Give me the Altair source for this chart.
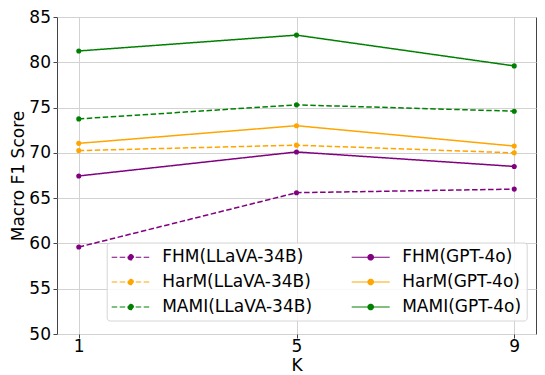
import altair as alt
import pandas as pd

k_values = [1, 5, 9]
series_order = ["FHM(LLaVA-34B)", "HarM(LLaVA-34B)", "MAMI(LLaVA-34B)",
                "FHM(GPT-4o)", "HarM(GPT-4o)", "MAMI(GPT-4o)"]
series_colors = ["purple", "orange", "green", "purple", "orange", "green"]
series_dash = [[5.5, 2.5], [5.5, 2.5], [5.5, 2.5], [1, 0], [1, 0], [1, 0]]

fhm_llava = [59.6, 65.6, 66.0]
harm_llava = [70.25, 70.85, 70.0]
mami_llava = [73.75, 75.3, 74.6]
fhm_gpt = [67.45, 70.1, 68.5]
harm_gpt = [71.05, 73.0, 70.75]
mami_gpt = [81.25, 83.0, 79.6]

values = {
    "FHM(LLaVA-34B)": fhm_llava,
    "HarM(LLaVA-34B)": harm_llava,
    "MAMI(LLaVA-34B)": mami_llava,
    "FHM(GPT-4o)": fhm_gpt,
    "HarM(GPT-4o)": harm_gpt,
    "MAMI(GPT-4o)": mami_gpt,
}

rows = []
for s in series_order:
    for k, v in zip(k_values, values[s]):
        rows.append({"K": k, "score": v, "series": s})
df = pd.DataFrame(rows)

FONT = "DejaVu Sans"
# legend glyph: a short horizontal line with a dot in the middle
legend_symbol = ("M-2.235,0H2.235M-0.32,0A0.32,0.32 0 1,0 0.32,0"
                 "A0.32,0.32 0 1,0 -0.32,0Z")

color_scale = alt.Scale(domain=series_order, range=series_colors)
dash_scale = alt.Scale(domain=series_order, range=series_dash)

legend = alt.Legend(
    title=None, orient="none", legendX=49.7, legendY=225.5, columns=2,
    symbolType=legend_symbol, symbolSize=289, symbolStrokeWidth=1.2,
    symbolOffset=9.5, symbolOpacity=1,
    labelFont=FONT, labelFontSize=17, labelOffset=22, columnPadding=36,
    rowPadding=7, padding=5, strokeColor="#d6d6d6", cornerRadius=3,
    fillColor="rgba(255,255,255,0.85)", labelLimit=300,
)

x_enc = alt.X("K:Q", scale=alt.Scale(domain=[0.6, 9.4], nice=False, zero=False),
              axis=alt.Axis(values=k_values, title="K", labelAngle=0,
                            format="d"))
y_enc = alt.Y("score:Q", scale=alt.Scale(domain=[50, 85], nice=False, zero=False),
              axis=alt.Axis(values=[50, 55, 60, 65, 70, 75, 80, 85],
                            title="Macro F1 Score", format="d"))

base = alt.Chart(df)
lines = base.mark_line(strokeWidth=1.5).encode(
    x=x_enc, y=y_enc,
    stroke=alt.Stroke("series:N", scale=color_scale, legend=legend),
    strokeDash=alt.StrokeDash("series:N", scale=dash_scale, legend=legend),
    detail="series:N",
)
points = base.mark_point(filled=True, size=26, opacity=1, strokeWidth=0).encode(
    x="K:Q", y="score:Q",
    fill=alt.Fill("series:N", scale=color_scale, legend=legend),
)

chart = alt.layer(lines, points).properties(
    width=479, height=317,
    autosize=alt.AutoSizeParams(type="none"),
    padding={"left": 49, "top": 9, "right": 1, "bottom": 41},
).configure(font=FONT).configure_view(
    stroke="#444444", strokeWidth=1
).configure_axis(
    labelFont=FONT, labelFontSize=17, labelColor="black",
    titleFont=FONT, titleFontSize=17, titleFontWeight="normal", titleColor="black",
    grid=True, gridColor="#d2d2d2", gridWidth=1,
    domain=False, tickColor="#444444", tickSize=4, tickWidth=1,
).configure_axisX(labelPadding=0, titlePadding=3).configure_axisY(
    labelPadding=2.5, titlePadding=1)

chart.save("out.html", embed_options={"renderer": "svg", "actions": False})
